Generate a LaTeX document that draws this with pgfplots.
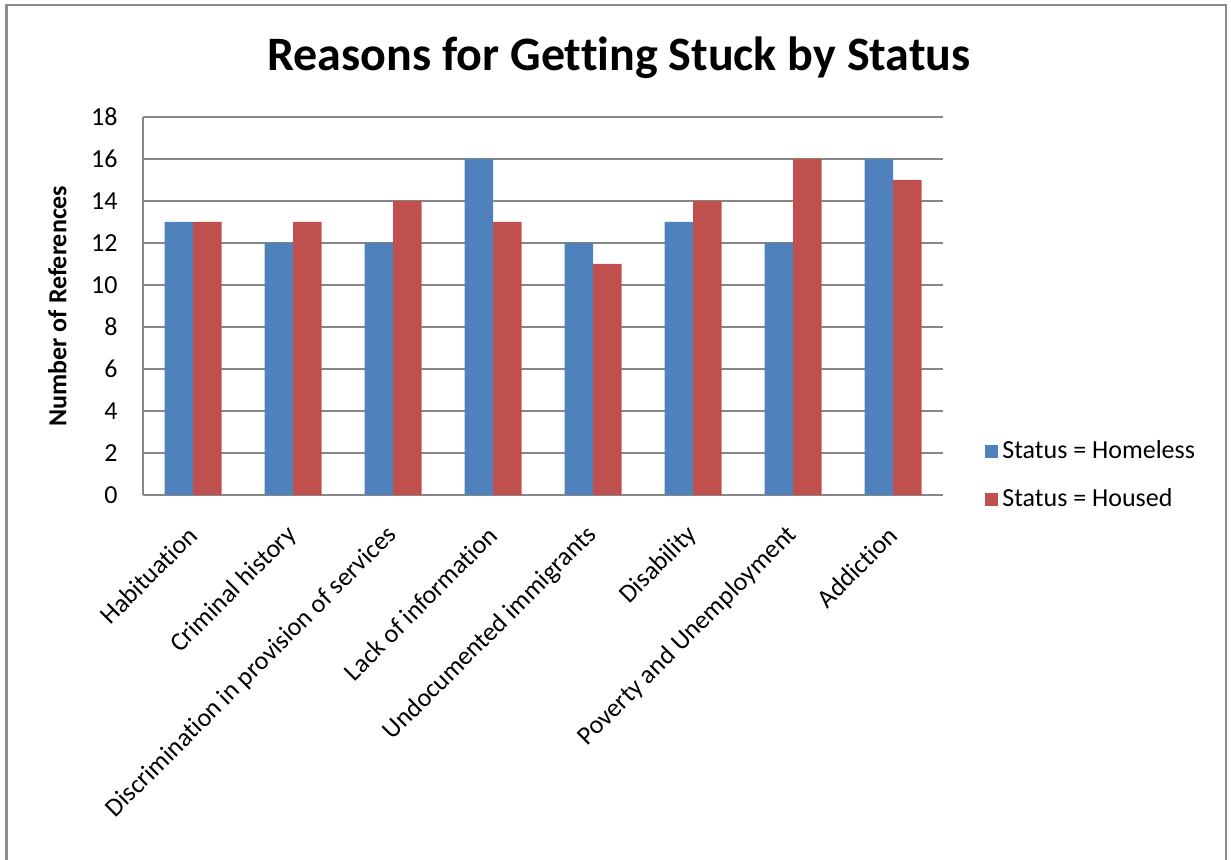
\documentclass[border=0pt]{standalone}
\usepackage{fontspec}
\setmainfont{Carlito}[Ligatures=NoCommon]
\usepackage{pgfplots}
\pgfplotsset{compat=1.18}
\definecolor{barblue}{HTML}{4F81BD}
\definecolor{barred}{HTML}{C0504D}
\definecolor{gridgray}{HTML}{878787}
\definecolor{framegray}{HTML}{8C8C8C}
\begin{document}
\begin{tikzpicture}
\useasboundingbox (0pt,0pt) rectangle (615.5pt,430pt);
\draw[framegray, line width=1.2pt] (3.25pt,-5pt) -- (3.25pt,427.5pt) -- (613pt,427.5pt) -- (613pt,-5pt);
\node[font=\fontsize{24}{28}\selectfont\bfseries] at (309.5pt,401pt) {Reasons for Getting Stuck by Status};
\begin{axis}[
  at={(71.5pt,182.5pt)}, anchor=south west,
  scale only axis, width=400pt, height=189pt,
  ybar=0pt, bar width=14.25pt,
  xmin=-0.5, xmax=7.5, ymin=0, ymax=18,
  ytick={0,2,...,18},
  xtick=data,
  xticklabels={Habituation,Criminal history,Discrimination in provision of services,Lack of information,Undocumented immigrants,Disability,Poverty and Unemployment,Addiction},
  major tick length=0pt,
  axis x line*=bottom, axis y line*=left,
  axis line style={gridgray, line width=0.6pt},
  ymajorgrids, grid style={gridgray, line width=0.6pt},
  /pgf/number format/assume math mode=true,
  tick label style={font=\fontsize{13}{15}\selectfont},
  yticklabel style={inner sep=0pt, xshift=-12.5pt},
  xticklabel style={xshift=0pt, yshift=-18pt, rotate=45, anchor=east, inner sep=0pt},
  ylabel={Number of References},
  every axis y label/.style={at={(axis description cs:-0.107,0.5)}, rotate=90, anchor=center, font=\fontsize{13}{15}\selectfont\bfseries},
  legend style={draw=none, fill=none, at={(1.0525,0.052)}, anchor=west, inner sep=0pt, font=\fontsize{13}{15}\selectfont, row sep=9.5pt, legend cell align=left},
  legend image code/.code={\path[#1, draw=none] (0pt,-3.25pt) rectangle (6.5pt,3.25pt);},
  clip=false,
]
\addplot[fill=barblue, draw=none] coordinates {(0,13) (1,12) (2,12) (3,16) (4,12) (5,13) (6,12) (7,16)};
\addplot[fill=barred, draw=none] coordinates {(0,13) (1,13) (2,14) (3,13) (4,11) (5,14) (6,16) (7,15)};
\legend{Status = Homeless, Status = Housed}
\end{axis}
\end{tikzpicture}
\end{document}
